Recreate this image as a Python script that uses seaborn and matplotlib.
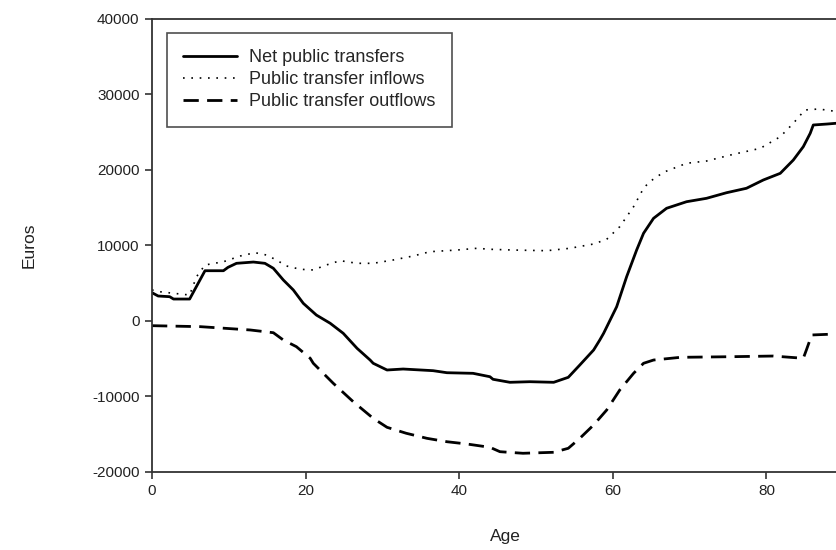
import seaborn as sns
import matplotlib.pyplot as plt
import pandas as pd

# values
net_age = [0, 0.8, 2.3, 2.8, 4.9, 6.9, 9.3, 9.9, 11.0, 13.2, 14.7, 15.8, 17.1, 18.4,
           19.7, 21.4, 23.2, 24.9, 26.7, 28.4, 28.8, 30.6, 32.7, 36.6, 38.4, 41.8,
           44.0, 44.4, 46.6, 49.2, 52.3, 54.2, 55.7, 57.5, 58.3, 58.8, 60.5, 61.8,
           63.1, 64.0, 65.3, 67.0, 69.6, 72.2, 74.8, 77.4, 79.6, 81.8, 83.5, 84.8,
           85.7, 86.1, 87.9, 89.1, 91]
net_val = [3710, 3270, 3180, 2870, 2870, 6620, 6620, 7070, 7600, 7770, 7600, 6940,
           5390, 4070, 2300, 750, -340, -1670, -3660, -5210, -5640, -6530, -6400,
           -6620, -6890, -6970, -7420, -7760, -8160, -8080, -8160, -7500, -5870,
           -3880, -2560, -1670, 1850, 5830, 9360, 11580, 13560, 14890, 15760, 16210,
           16950, 17540, 18640, 19520, 21280, 23050, 24820, 25920, 26050, 26150, 26200]

in_age = [0, 1.0, 2.8, 4.9, 5.8, 6.9, 9.3, 11.5, 13.4, 14.9, 16.2, 17.5, 19.3, 21.0,
          22.7, 24.5, 26.7, 28.8, 31.4, 34.0, 36.2, 39.7, 42.3, 44.0, 47.0, 51.4,
          54.4, 57.5, 59.2, 60.9, 62.7, 64.0, 64.8, 66.6, 69.6, 72.2, 75.7, 79.2,
          81.8, 83.5, 85.0, 86.8, 88.7, 91]
in_val = [4070, 3840, 3630, 3400, 5830, 7380, 7810, 8570, 9010, 8700, 8040, 7250,
          6810, 6720, 7380, 7950, 7600, 7600, 8040, 8570, 9140, 9360, 9590, 9460,
          9360, 9270, 9590, 10160, 10780, 12450, 15100, 17540, 18410, 19660, 20850,
          21150, 22040, 22830, 24370, 26150, 27910, 28040, 27770, 27700]

out_age = [0, 6.3, 12.8, 15.8, 17.1, 18.8, 20.6, 21.0, 23.6, 26.2, 28.8, 30.6, 33.1,
           35.8, 38.4, 41.0, 44.0, 45.3, 48.3, 52.3, 54.2, 55.7, 57.5, 59.2, 60.9,
           62.7, 64.0, 65.3, 68.8, 75.3, 80.9, 84.8, 85.2, 85.9, 89.1, 91]
out_val = [-660, -790, -1230, -1590, -2560, -3440, -4980, -5640, -8290, -10730,
           -12930, -14120, -14910, -15580, -16030, -16330, -16770, -17350, -17560,
           -17430, -16900, -15580, -13810, -11830, -9180, -6970, -5640, -5210, -4850,
           -4770, -4680, -4980, -3880, -1890, -1760, -1760]

labels = ["Net public transfers", "Public transfer inflows", "Public transfer outflows"]

sns.set_style("ticks")
plt.rcParams['font.family'] = ['Liberation Sans', 'DejaVu Sans']
plt.rcParams['axes.unicode_minus'] = False

fig = plt.figure(figsize=(8.36, 5.5), dpi=100)
# axes run past the right edge, as in the cropped original
ax = fig.add_axes([152 / 836, 1 - 471.7 / 550, 706.6 / 836, 453 / 550])

sns.lineplot(x=net_age, y=net_val, ax=ax, color="black", lw=2.0, label=labels[0])
sns.lineplot(x=in_age, y=in_val, ax=ax, color="black", lw=1.2, label=labels[1])
sns.lineplot(x=out_age, y=out_val, ax=ax, color="black", lw=2.0, label=labels[2])
ax.lines[1].set_dashes([1, 4])
ax.lines[2].set_dashes([5.5, 3])

ax.set_xlim(0, 92)
ax.set_ylim(-20000, 40000)
ax.set_xticks([0, 20, 40, 60, 80])
ax.set_yticks(range(-20000, 40001, 10000))
ax.tick_params(direction="out", length=5, width=1.2, colors="#333333",
               labelsize=11, labelcolor="#222222", pad=4)
for s in ["left", "bottom", "top"]:
    ax.spines[s].set_linewidth(1.3)
    ax.spines[s].set_color("#333333")
ax.spines["right"].set_visible(False)

ax.set_xlabel("Age", fontsize=12.5, color="#222222", labelpad=22)
ax.set_ylabel("Euros", fontsize=12.5, color="#222222")
ax.yaxis.set_label_coords(-115 / 706.6, 0.5)

leg = ax.legend(loc="upper left", bbox_to_anchor=(15 / 706.6, (471.7 - 33) / 453),
                borderaxespad=0, fancybox=False, fontsize=13, frameon=True,
                handlelength=3.0, handletextpad=0.65, labelspacing=0.28, borderpad=0.9)
leg.get_frame().set_edgecolor("#222222")
leg.get_frame().set_linewidth(1.2)

fig.savefig("out.png", dpi=100)
